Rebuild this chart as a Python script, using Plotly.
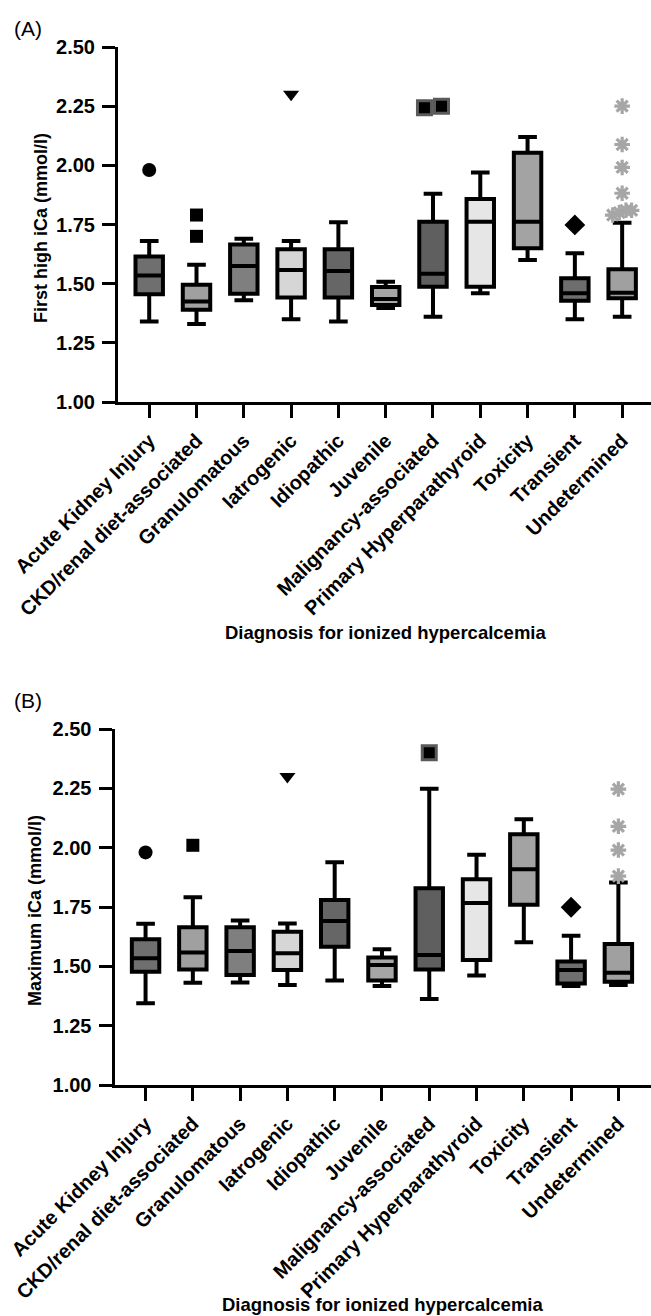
import plotly.graph_objects as go

# ---------------- data ----------------
categories = ["Acute Kidney Injury", "CKD/renal diet-associated", "Granulomatous",
              "Iatrogenic", "Idiopathic", "Juvenile", "Malignancy-associated",
              "Primary Hyperparathyroid", "Toxicity", "Transient", "Undetermined"]

# Panel A: First high iCa (mmol/l)
a_lower  = [1.34, 1.33, 1.43, 1.35, 1.34, 1.397, 1.36, 1.46, 1.60, 1.35, 1.36]
a_q1     = [1.455, 1.39, 1.457, 1.442, 1.442, 1.41, 1.487, 1.487, 1.65, 1.428, 1.438]
a_median = [1.535, 1.425, 1.575, 1.558, 1.554, 1.435, 1.542, 1.762, 1.762, 1.459, 1.462]
a_q3     = [1.615, 1.495, 1.665, 1.645, 1.645, 1.486, 1.762, 1.858, 2.053, 1.523, 1.561]
a_upper  = [1.68, 1.58, 1.69, 1.68, 1.76, 1.508, 1.88, 1.97, 2.12, 1.628, 1.757]
# outliers: category index, value, horizontal spread
a_out_cat = [0, 1, 1, 3, 6, 6, 9, 10, 10, 10, 10, 10, 10, 10, 10]
a_out_val = [1.98, 1.79, 1.70, 2.30, 2.243, 2.25, 1.748, 2.25, 2.088, 1.991, 1.882,
             1.79, 1.80, 1.81, 1.81]
a_out_dx  = [0, 0, 0, 0, -0.18, 0.18, 0, 0, 0, 0, 0, -0.2, -0.06, 0.08, 0.2]

# Panel B: Maximum iCa (mmol/l)
b_lower  = [1.344, 1.431, 1.432, 1.421, 1.44, 1.417, 1.362, 1.461, 1.601, 1.417, 1.421]
b_q1     = [1.477, 1.487, 1.463, 1.485, 1.583, 1.44, 1.487, 1.527, 1.759, 1.428, 1.435]
b_median = [1.534, 1.558, 1.565, 1.555, 1.691, 1.506, 1.548, 1.767, 1.909, 1.485, 1.473]
b_q3     = [1.614, 1.665, 1.665, 1.646, 1.78, 1.537, 1.829, 1.867, 2.057, 1.52, 1.594]
b_upper  = [1.679, 1.791, 1.693, 1.68, 1.939, 1.572, 2.248, 1.97, 2.12, 1.629, 1.853]
b_out_cat = [0, 1, 3, 6, 9, 10, 10, 10, 10]
b_out_val = [1.98, 2.01, 2.30, 2.40, 1.749, 2.247, 2.09, 1.99, 1.88]
b_out_dx  = [0, 0, 0, 0, 0, 0, 0, 0, 0]

y_ticks = [1.00, 1.25, 1.50, 1.75, 2.00, 2.25, 2.50]

# ---------------- styles ----------------
fills = ["#6f6f6f", "#a0a0a0", "#7f7f7f", "#d6d6d6", "#666666", "#a6a6a6",
         "#5f5f5f", "#e6e6e6", "#a3a3a3", "#6e6e6e", "#a0a0a0"]
out_style = {
    0: dict(symbol="circle", size=14, color="black", line=dict(width=0)),
    1: dict(symbol="square", size=13, color="black", line=dict(width=0)),
    3: dict(symbol="triangle-down", size=14, color="black", line=dict(width=0)),
    6: dict(symbol="square", size=14, color="black", line=dict(color="#5a5a5a", width=3)),
    9: dict(symbol="diamond", size=16, color="black", line=dict(width=0)),
    10: dict(symbol="asterisk", size=13, color="#a6a6a6", line=dict(color="#a6a6a6", width=3.2)),
}

FONT = "Liberation Sans, Arial, Helvetica, sans-serif"
W, H = 651, 1316

fig = go.Figure()


def add_panel(xref, yref, lower, q1, med, q3, upper, ocat, oval, odx):
    for i in range(len(categories)):
        fig.add_trace(go.Box(
            x=[i], lowerfence=[lower[i]], q1=[q1[i]], median=[med[i]], q3=[q3[i]],
            upperfence=[upper[i]], width=0.58, whiskerwidth=0.68,
            fillcolor=fills[i], line=dict(color="black", width=4),
            boxpoints=False, showlegend=False, xaxis=xref, yaxis=yref,
            hoverinfo="skip"))
    for c in sorted(set(ocat)):
        xs = [ocat[k] + odx[k] for k in range(len(ocat)) if ocat[k] == c]
        ys = [oval[k] for k in range(len(ocat)) if ocat[k] == c]
        fig.add_trace(go.Scatter(x=xs, y=ys, mode="markers", marker=out_style[c],
                                 showlegend=False, xaxis=xref, yaxis=yref,
                                 hoverinfo="skip", cliponaxis=False))


add_panel("x", "y", a_lower, a_q1, a_median, a_q3, a_upper, a_out_cat, a_out_val, a_out_dx)
add_panel("x2", "y2", b_lower, b_q1, b_median, b_q3, b_upper, b_out_cat, b_out_val, b_out_dx)

axis_common = dict(showline=True, linecolor="black", linewidth=3, ticks="outside",
                   ticklen=13, tickwidth=3, tickcolor="black", showgrid=False,
                   zeroline=False, automargin=False, ticklabelstandoff=3,
                   tickfont=dict(family=FONT, size=20, color="black", weight="bold"))

xa = dict(axis_common, tickmode="array", tickvals=list(range(len(categories))),
          ticktext=categories, tickangle=-45)
ya = dict(axis_common, tickmode="array", tickvals=y_ticks,
          ticktext=["%.2f" % v for v in y_ticks], range=[1.0, 2.5])

fig.update_layout(
    width=W, height=H, margin=dict(l=0, r=0, t=0, b=0),
    paper_bgcolor="white", plot_bgcolor="white", boxmode="overlay",
    xaxis=dict(xa, domain=[118 / W, 1.0], range=[-0.66, 10.61], anchor="y"),
    yaxis=dict(ya, domain=[1 - 402 / H, 1 - 47 / H], anchor="x"),
    xaxis2=dict(xa, domain=[114.5 / W, 1.0], range=[-0.657, 10.69], anchor="y2"),
    yaxis2=dict(ya, domain=[1 - 1085 / H, 1 - 729 / H], anchor="x2"),
)

ann = []
ann.append(dict(text="(A)", x=12 / W, y=1 - 28 / H, xref="paper", yref="paper",
                xanchor="left", yanchor="middle", showarrow=False,
                font=dict(family=FONT, size=21, color="black")))
ann.append(dict(text="(B)", x=12 / W, y=1 - 700 / H, xref="paper", yref="paper",
                xanchor="left", yanchor="middle", showarrow=False,
                font=dict(family=FONT, size=21, color="black")))
ann.append(dict(text="First high iCa (mmol/l)", x=41 / W, y=1 - 228 / H, xref="paper",
                yref="paper", xanchor="center", yanchor="middle", textangle=-90,
                showarrow=False, font=dict(family=FONT, size=18, color="black", weight="bold")))
ann.append(dict(text="Maximum iCa (mmol/l)", x=35 / W, y=1 - 911 / H, xref="paper",
                yref="paper", xanchor="center", yanchor="middle", textangle=-90,
                showarrow=False, font=dict(family=FONT, size=18, color="black", weight="bold")))
ann.append(dict(text="Diagnosis for ionized hypercalcemia", x=386 / W, y=1 - 633 / H,
                xref="paper", yref="paper", xanchor="center", yanchor="middle",
                showarrow=False, font=dict(family=FONT, size=18.5, color="black", weight="bold")))
ann.append(dict(text="Diagnosis for ionized hypercalcemia", x=382 / W, y=1 - 1304 / H,
                xref="paper", yref="paper", xanchor="center", yanchor="middle",
                showarrow=False, font=dict(family=FONT, size=18.5, color="black", weight="bold")))
fig.update_layout(annotations=ann)

fig.write_html("out.html", config={"displayModeBar": False},
               post_script="document.body.style.margin='0px';"
                           "document.body.style.overflow='hidden';")
